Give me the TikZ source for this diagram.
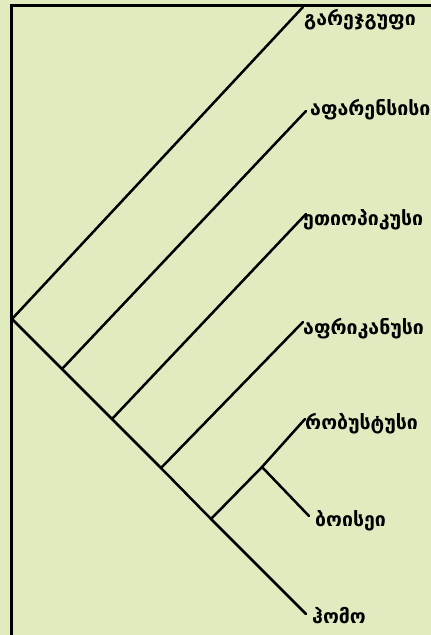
\documentclass[tikz,border=0pt]{standalone}
\usepackage{fontspec}
\newfontfamily\geofont[Script=Georgian]{DejaVu Sans}
\definecolor{bgc}{RGB}{224,235,192}
\begin{document}
\begin{tikzpicture}[x=1pt,y=-1pt,
  branch/.style={line width=2.5pt,line cap=round},
  frame/.style={line width=3pt},
  lbl/.style={anchor=west,inner sep=0pt,font=\geofont\bfseries\fontsize{19.5}{22}\selectfont}]
\fill[bgc] (0,0) rectangle (431,635);
\useasboundingbox (0,0) rectangle (431,635);
% frame
\coordinate (ftl) at (11,5);
\coordinate (ftr) at (432,5);
\coordinate (fbl) at (11,636);
\draw[frame] (fbl) -- (ftl) -- (ftr);
% internal points
\coordinate (root) at (12,319);
\coordinate (j1) at (62,369);
\coordinate (j2) at (112,419);
\coordinate (j3) at (161,468);
\coordinate (j4) at (211,519);
\coordinate (j5) at (262,467);
% tips
\coordinate (tout) at (303,7);
\coordinate (tafa) at (306,111);
\coordinate (teth) at (306,214);
\coordinate (tafr) at (303,322);
\coordinate (trob) at (305,419);
\coordinate (tboi) at (309,516);
\coordinate (thom) at (306,614);
% branches
\draw[branch] (root) -- (tout);
\draw[branch] (root) -- (j1) -- (j2) -- (j3) -- (j4) -- (thom);
\draw[branch] (j1) -- (tafa);
\draw[branch] (j2) -- (teth);
\draw[branch] (j3) -- (tafr);
\draw[branch] (j4) -- (j5) -- (trob);
\draw[branch] (j5) -- (tboi);
% labels
\node[lbl] (lout) at (304,20) {გარეჯგუფი};
\node[lbl] (lafa) at (310,110) {აფარენსისი};
\node[lbl] (leth) at (303,220) {ეთიოპიკუსი};
\node[lbl] (lafr) at (303,329) {აფრიკანუსი};
\node[lbl] (lrob) at (305,424) {რობუსტუსი};
\node[lbl] (lboi) at (315,521) {ბოისეი};
\node[lbl] (lhom) at (312,616) {ჰომო};
\end{tikzpicture}
\end{document}
